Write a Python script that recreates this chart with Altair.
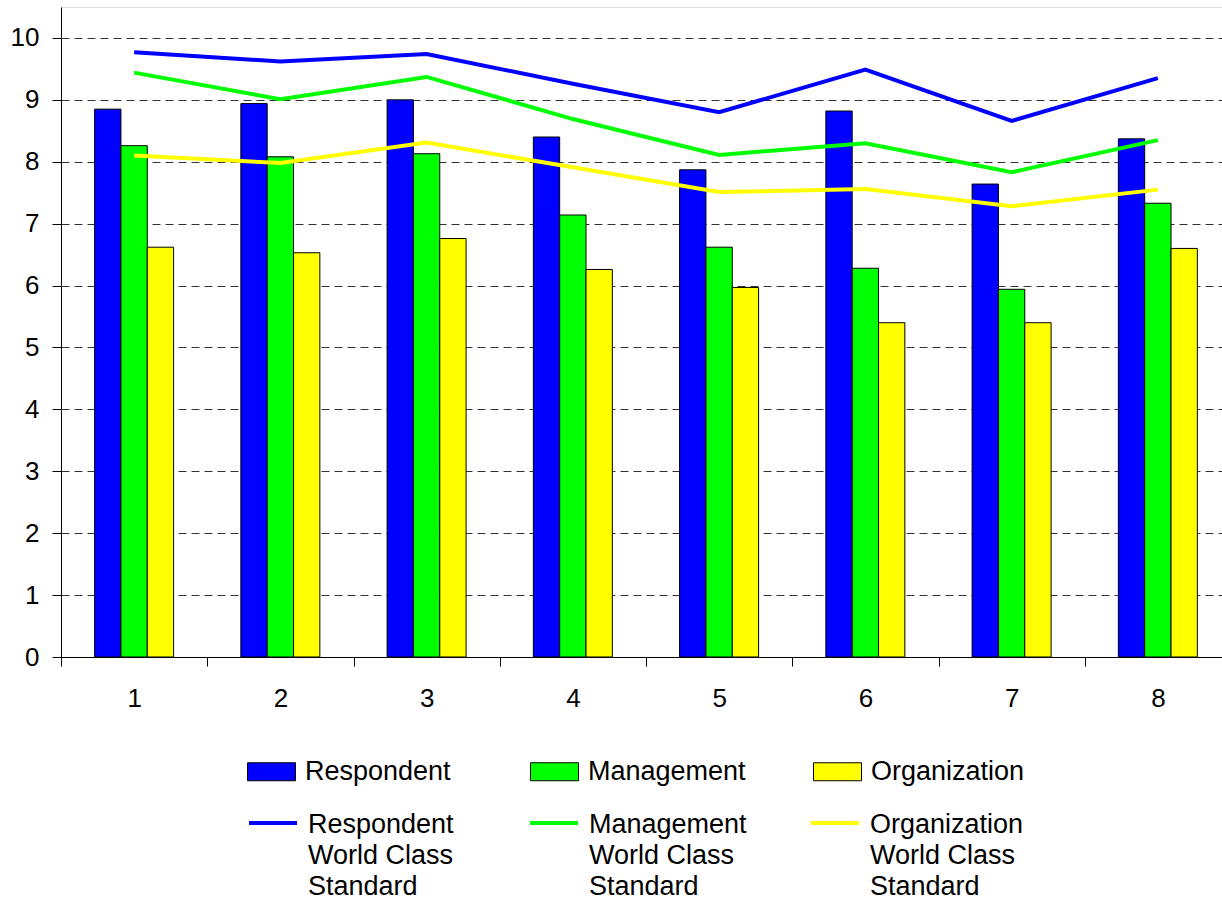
import altair as alt
import pandas as pd

# Survey dimensions 1..8
categories = ["1", "2", "3", "4", "5", "6", "7", "8"]

# Mean scores (bars)
respondent = [8.85, 8.94, 9.00, 8.40, 7.87, 8.82, 7.64, 8.37]
management = [8.26, 8.08, 8.13, 7.14, 6.62, 6.28, 5.94, 7.33]
organization = [6.62, 6.53, 6.76, 6.26, 5.97, 5.40, 5.40, 6.60]

# World class standard benchmarks (lines)
respondent_wcs = [9.77, 9.62, 9.74, 9.26, 8.80, 9.49, 8.66, 9.35]
management_wcs = [9.44, 9.01, 9.37, 8.69, 8.11, 8.30, 7.83, 8.35]
organization_wcs = [8.10, 7.98, 8.31, 7.91, 7.51, 7.56, 7.28, 7.55]

bar_series = ["Respondent", "Management", "Organization"]
line_series = [s + " World Class Standard" for s in bar_series]
colors = ["#0000FF", "#00FF00", "#FFFF00"]

bars = pd.DataFrame(
    [
        {"category": c, "series": name, "value": v}
        for name, vals in zip(bar_series, [respondent, management, organization])
        for c, v in zip(categories, vals)
    ]
)
lines = pd.DataFrame(
    [
        {"category": c, "series": name, "value": v}
        for name, vals in zip(line_series, [respondent_wcs, management_wcs, organization_wcs])
        for c, v in zip(categories, vals)
    ]
)

FONT = "Liberation Sans"

x_enc = alt.X(
    "category:N",
    sort=categories,
    scale=alt.Scale(range=[0, 1170], paddingInner=0, paddingOuter=0),
    axis=alt.Axis(
        title=None,
        labelAngle=0,
        tickBand="extent",
        tickSize=9,
        tickColor="black",
        domainColor="black",
        labelFontSize=26,
        labelFont=FONT,
        labelColor="black",
        labelPadding=19,
        grid=False,
    ),
)
y_enc = alt.Y(
    "value:Q",
    scale=alt.Scale(domain=[0, 10.5], nice=False, zero=True),
    axis=alt.Axis(
        title=None,
        values=list(range(0, 11)),
        format="d",
        tickSize=9,
        tickColor="black",
        domainColor="black",
        labelFontSize=26,
        labelFont=FONT,
        labelColor="black",
        labelPadding=13,
        grid=True,
        gridColor="#333333",
        gridDash=[8, 5],
        gridWidth=1,
    ),
)

# the three bars of a group sit together in the middle of each category step
bar_layer = alt.Chart(bars).mark_bar(stroke="black", strokeWidth=1).encode(
    x=x_enc,
    y=y_enc,
    xOffset=alt.XOffset(
        "series:N",
        sort=bar_series,
        scale=alt.Scale(range=[33.6, 112.6], paddingInner=0, paddingOuter=0),
    ),
    fill=alt.Fill(
        "series:N",
        sort=bar_series,
        scale=alt.Scale(domain=bar_series, range=colors),
        legend=alt.Legend(
            title=None,
            orient="none",
            legendX=186,
            legendY=740,
            direction="horizontal",
            columns=3,
            gridAlign="all",
            columnPadding=65,
            padding=0,
            symbolType="M-1,-0.375H1V0.375H-1Z",
            symbolSize=2304,
            symbolStrokeColor="black",
            symbolStrokeWidth=1,
            symbolOpacity=1,
            labelFont=FONT,
            labelFontSize=27,
            labelColor="black",
            labelOffset=9,
            labelLimit=400,
        ),
    ),
)

line_layer = alt.Chart(lines).mark_line(strokeWidth=4).encode(
    x=x_enc,
    y=alt.Y("value:Q"),
    stroke=alt.Stroke(
        "series:N",
        sort=line_series,
        scale=alt.Scale(domain=line_series, range=colors),
        legend=alt.Legend(
            title=None,
            orient="none",
            legendX=186,
            legendY=779,
            direction="horizontal",
            columns=3,
            gridAlign="all",
            columnPadding=56,
            padding=0,
            symbolType="M-1,0.458H1",
            symbolSize=2304,
            symbolStrokeWidth=4,
            labelFont=FONT,
            labelFontSize=27,
            labelColor="black",
            labelOffset=9,
            labelLimit=400,
            labelBaseline="top",
            labelExpr="[slice(datum.label, 0, indexof(datum.label, ' World')), 'World Class', 'Standard']",
        ),
    ),
)

chart = (
    alt.layer(bar_layer, line_layer)
    .resolve_scale(fill="independent", stroke="independent")
    .properties(
        width=1161,
        height=650,
        autosize=alt.AutoSizeParams(type="none"),
        padding={"left": 61, "top": 7, "right": 0, "bottom": 244},
        background="white",
    )
    .configure_view(fill="#DDDDDD", stroke="black", strokeWidth=1)
    .configure(style={"guide-label": {"lineHeight": 31}})
)

chart.save("out.html", embed_options={"renderer": "svg", "actions": False})
